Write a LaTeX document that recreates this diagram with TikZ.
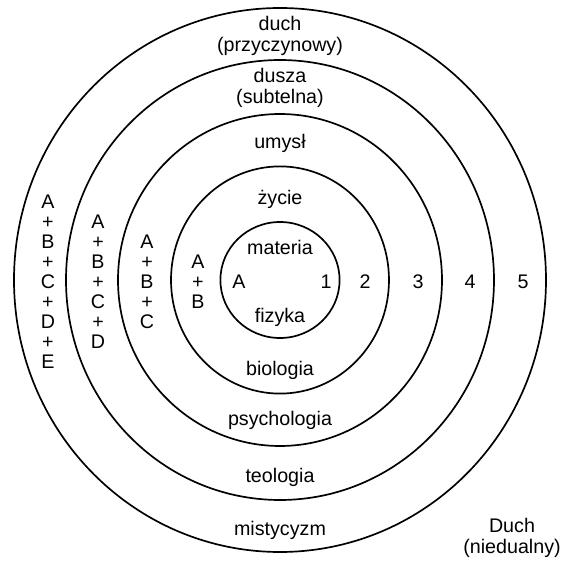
\documentclass[tikz,border=0pt]{standalone}
\usepackage{fontspec}
\setmainfont{Liberation Sans}
\usepackage{tikz}

\begin{document}
\begin{tikzpicture}[
ring/.style={line width=1.2pt},
lbl/.style={inner sep=0pt, font=\fontsize{14}{15.5}\selectfont, align=center},
sum/.style={inner sep=0pt, font=\fontsize{14}{14.2}\selectfont, align=center}
]
\useasboundingbox (-7,-7.025) rectangle (7.075,7);

\draw[ring] (0,0) ellipse [x radius=1.49, y radius=1.45];
\draw[ring] (0,0) ellipse [x radius=2.725, y radius=2.84];
\draw[ring] (0,0) ellipse [x radius=4.05, y radius=4.15];
\draw[ring] (0,0) ellipse [x radius=5.35, y radius=5.5];
\draw[ring] (0,0) ellipse [x radius=6.65, y radius=6.8];

% upper half
\node[lbl] (duch) at (0,6.1) {duch\\(przyczynowy)};
\node[lbl] (dusza) at (0,4.8) {dusza\\(subtelna)};
\node[lbl] (umysl) at (0,3.425) {umysł};
\node[lbl] (zycie) at (0,2.025) {życie};
\node[lbl] (materia) at (0,0.825) {materia};

% lower half
\node[lbl] (fizyka) at (0,-0.925) {fizyka};
\node[lbl] (biologia) at (0,-2.25) {biologia};
\node[lbl] (psychologia) at (0,-3.5) {psychologia};
\node[lbl] (teologia) at (0,-4.925) {teologia};
\node[lbl] (mistycyzm) at (0,-6.25) {mistycyzm};
\node[lbl] (Duch) at (5.8,-6.45) {Duch\\(niedualny)};

% levels
\node[lbl] (A) at (-1.025,-0.05) {A};
\node[lbl] (n1) at (1.15,-0.05) {1};
\node[lbl] (n2) at (2.125,-0.05) {2};
\node[lbl] (n3) at (3.45,-0.05) {3};
\node[lbl] (n4) at (4.75,-0.05) {4};
\node[lbl] (n5) at (6.075,-0.05) {5};

% sums
\node[sum] (AB) at (-2.05,-0.05) {A\\+\\B};
\node[sum] (ABC) at (-3.325,-0.05) {A\\+\\B\\+\\C};
\node[sum] (ABCD) at (-4.55,-0.05) {A\\+\\B\\+\\C\\+\\D};
\node[sum] (ABCDE) at (-5.8,-0.05) {A\\+\\B\\+\\C\\+\\D\\+\\E};

\end{tikzpicture}
\end{document}
